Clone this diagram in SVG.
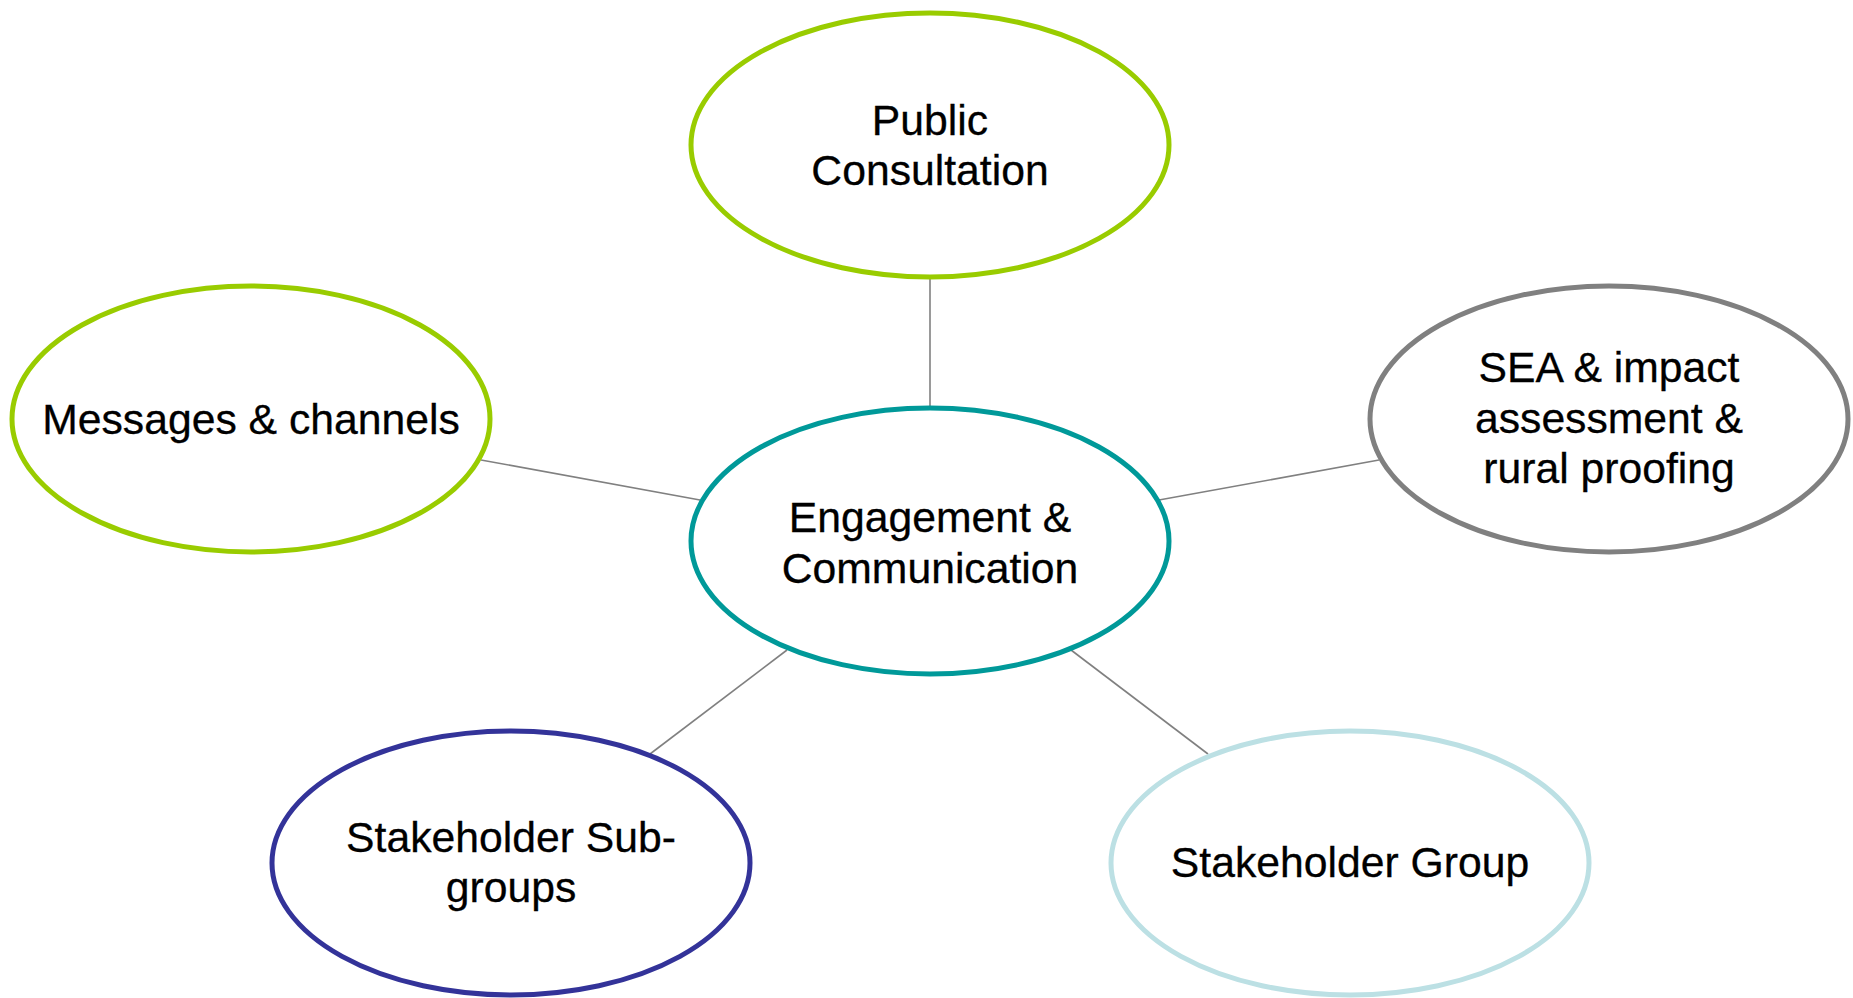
<svg xmlns="http://www.w3.org/2000/svg" width="1853" height="998" viewBox="0 0 1853 998">
<style>
.n{fill:#fff;stroke-width:5}
.t{font-family:"Liberation Sans",Arial,sans-serif;font-size:42.7px;fill:#000;text-anchor:middle;stroke:#000;stroke-width:0.3}
.c line{stroke:#808080;stroke-width:1.6}
</style>
<rect width="1853" height="998" fill="#fff"/>
<g id="connectors" class="c">
<line x1="930" y1="277" x2="930" y2="408"/>
<line x1="481" y1="460" x2="700" y2="500"/>
<line x1="1159" y1="500" x2="1379" y2="460"/>
<line x1="787" y1="650" x2="650" y2="754"/>
<line x1="1071" y1="650" x2="1208" y2="754"/>
</g>
<g id="public-consultation">
<ellipse class="n" cx="930" cy="145" rx="239" ry="132" stroke="#99CC00"/>
<text class="t" x="930" y="135">Public</text>
<text class="t" x="930" y="185">Consultation</text>
</g>
<g id="engagement">
<ellipse class="n" cx="930" cy="541" rx="239" ry="133" stroke="#009999"/>
<text class="t" x="930" y="532">Engagement &amp;</text>
<text class="t" x="930" y="583">Communication</text>
</g>
<g id="messages">
<ellipse class="n" cx="251" cy="419" rx="239" ry="133" stroke="#99CC00"/>
<text class="t" x="251" y="434">Messages &amp; channels</text>
</g>
<g id="sea">
<ellipse class="n" cx="1609" cy="419" rx="239" ry="133" stroke="#808080"/>
<text class="t" x="1609" y="382">SEA &amp; impact</text>
<text class="t" x="1609" y="433">assessment &amp;</text>
<text class="t" x="1609" y="483">rural proofing</text>
</g>
<g id="sub-groups">
<ellipse class="n" cx="511" cy="863" rx="239" ry="132" stroke="#333399"/>
<text class="t" x="511" y="852">Stakeholder Sub-</text>
<text class="t" x="511" y="902">groups</text>
</g>
<g id="stakeholder-group">
<ellipse class="n" cx="1350" cy="863" rx="239" ry="132" stroke="#BCE0E4"/>
<text class="t" x="1350" y="877">Stakeholder Group</text>
</g>
</svg>
